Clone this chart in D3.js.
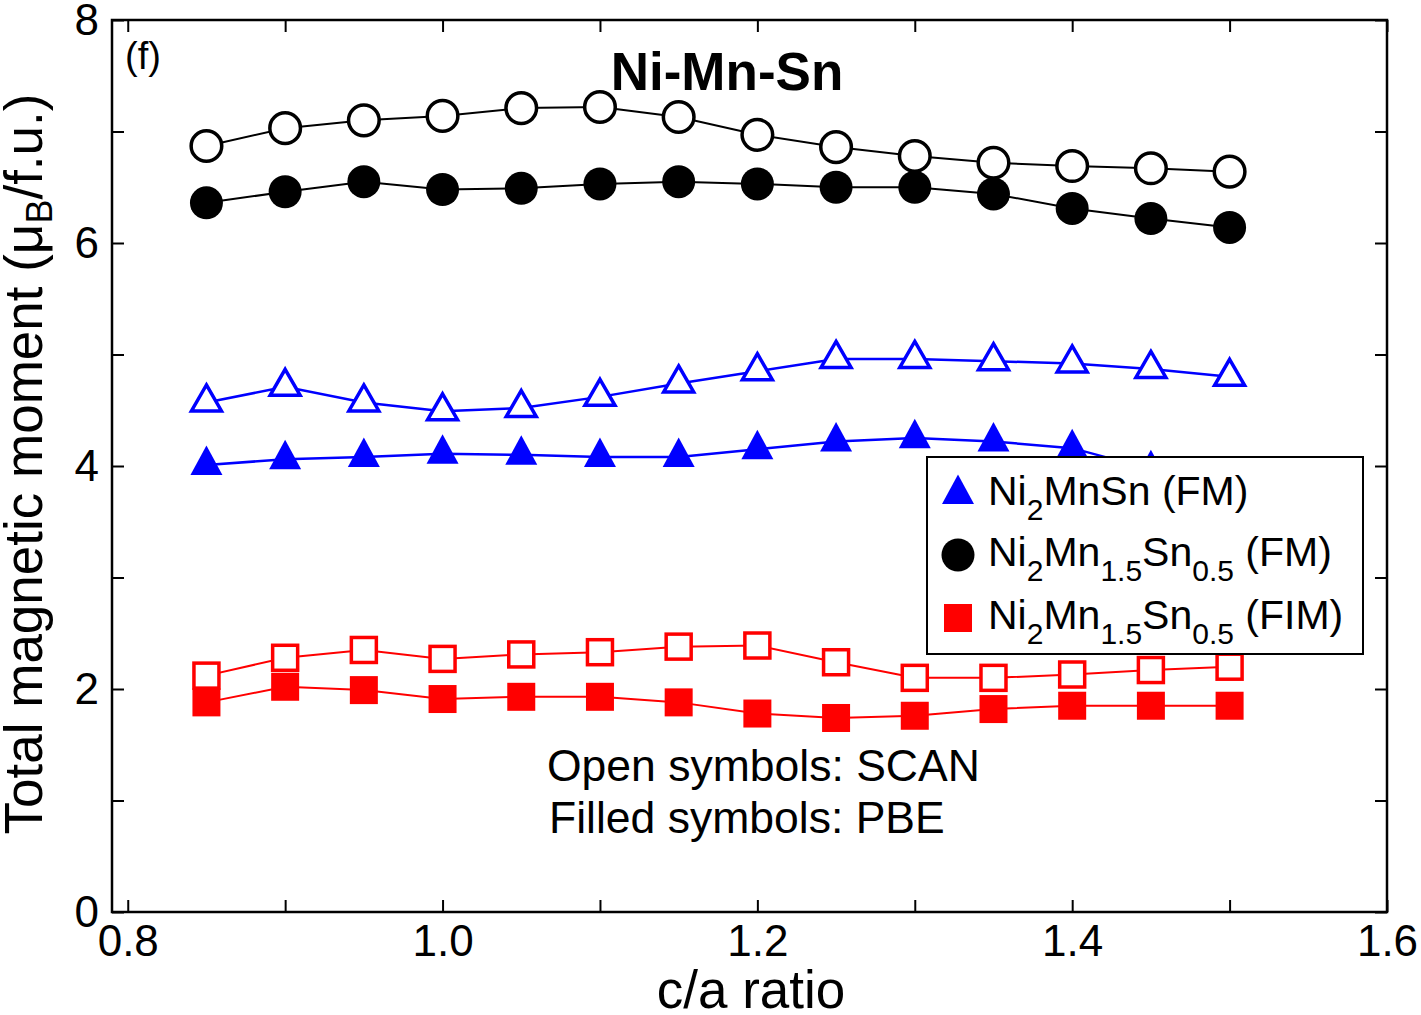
<!DOCTYPE html>
<html><head><meta charset="utf-8">
<script src="https://cdn.jsdelivr.net/npm/d3@7"></script>
<style>body{margin:0;background:#fff}svg{display:block}text{font-family:"Liberation Sans",Arial,Helvetica,sans-serif}</style>
</head><body>
<svg id="c" width="1421" height="1015"></svg>
<script>
const caRatio = [0.85,0.90,0.95,1.00,1.05,1.10,1.15,1.20,1.25,1.30,1.35,1.40,1.45,1.50];
const scanMn15FM = [6.87,7.03,7.10,7.14,7.21,7.22,7.13,6.97,6.86,6.78,6.72,6.69,6.67,6.64];
const pbeMn15FM  = [6.36,6.46,6.55,6.48,6.49,6.53,6.55,6.53,6.50,6.50,6.44,6.31,6.22,6.14];
const scanNi2MnSn = [4.57,4.71,4.57,4.49,4.52,4.62,4.74,4.85,4.96,4.96,4.94,4.92,4.87,4.80];
const pbeNi2MnSn  = [4.01,4.06,4.08,4.11,4.10,4.08,4.08,4.15,4.22,4.25,4.22,4.16,3.97,3.90];
const scanMn15FIM = [2.12,2.28,2.35,2.27,2.31,2.33,2.38,2.39,2.24,2.10,2.10,2.13,2.17,2.20];
const pbeMn15FIM  = [1.88,2.02,1.99,1.91,1.93,1.93,1.88,1.78,1.74,1.76,1.82,1.85,1.85,1.85];
const xTicks = [0.8,0.9,1.0,1.1,1.2,1.3,1.4,1.5,1.6];
const xTickLabels = ["0.8","","1.0","","1.2","","1.4","","1.6"];
const yTicks = [0,1,2,3,4,5,6,7,8];
const yTickLabels = ["0","","2","","4","","6","","8"];

const svg = d3.select("#c");
const L=112, R=1387, T=20, B=912;
const x = d3.scaleLinear().domain([0.79,1.6]).range([L,R]);
const y = d3.scaleLinear().domain([0,8]).range([B,T]);

function styleAxis(g){
  g.select(".domain").remove();
  g.selectAll(".tick line").attr("stroke","#000").attr("stroke-width",2);
  g.selectAll(".tick text").attr("font-size",44).attr("fill","#000")
   .style("font-family",'"Liberation Sans",Arial,sans-serif');
}
svg.append("g").attr("transform",`translate(0,${B})`)
  .call(d3.axisBottom(x).tickValues(xTicks).tickSizeInner(-12).tickSizeOuter(0).tickPadding(13)
    .tickFormat((d,i)=>xTickLabels[i])).call(styleAxis);
svg.append("g").attr("transform",`translate(0,${T})`)
  .call(d3.axisTop(x).tickValues(xTicks).tickSizeInner(-12).tickSizeOuter(0).tickFormat(""))
  .call(styleAxis);
svg.append("g").attr("transform",`translate(${L},0)`)
  .call(d3.axisLeft(y).tickValues(yTicks).tickSizeInner(-12).tickSizeOuter(0).tickPadding(13)
    .tickFormat((d,i)=>yTickLabels[i])).call(styleAxis);
svg.append("g").attr("transform",`translate(${R},0)`)
  .call(d3.axisRight(y).tickValues(yTicks).tickSizeInner(-12).tickSizeOuter(0).tickFormat(""))
  .call(styleAxis);

svg.append("rect").attr("x",L).attr("y",T).attr("width",R-L).attr("height",B-T)
  .attr("fill","none").attr("stroke","#000").attr("stroke-width",2.5);

const series = [
  {v:pbeMn15FIM, color:"#ff0000", sym:"square", fill:true, lw:2},
  {v:scanMn15FIM, color:"#ff0000", sym:"square", fill:false, lw:2},
  {v:pbeNi2MnSn, color:"#0000ff", sym:"triangle", fill:true, lw:2.5},
  {v:scanNi2MnSn, color:"#0000ff", sym:"triangle", fill:false, lw:2.5},
  {v:pbeMn15FM, color:"#000000", sym:"circle", fill:true, lw:2},
  {v:scanMn15FM, color:"#000000", sym:"circle", fill:false, lw:2},
];
function drawSym(g, sym, fill, color, cx, cy){
  const sw = 3.5;
  if(sym==="circle"){
    g.append("circle").attr("cx",cx).attr("cy",cy).attr("r",fill?16.5:15.3)
     .attr("fill",fill?color:"#fff").attr("stroke",color).attr("stroke-width",fill?0:sw);
  } else if(sym==="square"){
    const s = fill?28:25;
    g.append("rect").attr("x",cx-s/2).attr("y",cy-s/2).attr("width",s).attr("height",s)
     .attr("fill",fill?color:"#fff").attr("stroke",color).attr("stroke-width",fill?0:sw);
  } else {
    const hw = fill?16:15, top = fill?19.5:17.5, bot = fill?10:8.5;
    g.append("path").attr("d",`M${cx},${cy-top}L${cx+hw},${cy+bot}L${cx-hw},${cy+bot}Z`)
     .attr("fill",fill?color:"#fff").attr("stroke",color).attr("stroke-width",fill?0:sw)
     .attr("stroke-linejoin","miter");
  }
}
series.forEach(s=>{
  const g = svg.append("g");
  const line = d3.line().x((d,i)=>x(caRatio[i])).y(d=>y(d));
  g.append("path").attr("d",line(s.v)).attr("fill","none").attr("stroke",s.color).attr("stroke-width",s.lw);
  s.v.forEach((d,i)=>drawSym(g,s.sym,s.fill,s.color,x(caRatio[i]),y(d)));
});

svg.append("text").attr("x",125).attr("y",69).attr("font-size",38).text("(f)");
svg.append("text").attr("x",727).attr("y",90).attr("font-size",53).attr("font-weight","bold")
  .attr("text-anchor","middle").text("Ni-Mn-Sn");
svg.append("text").attr("x",547).attr("y",781).attr("font-size",44.5).text("Open symbols: SCAN");
svg.append("text").attr("x",549).attr("y",833).attr("font-size",44.5).text("Filled symbols: PBE");
svg.append("text").attr("x",751).attr("y",1008).attr("font-size",53).attr("text-anchor","middle").text("c/a ratio");
const yl = svg.append("text").attr("transform","translate(42,464) rotate(-90)").attr("font-size",53).attr("text-anchor","middle");
yl.append("tspan").text("Total magnetic moment (μ");
yl.append("tspan").attr("font-size",36).attr("dy",10).text("B");
yl.append("tspan").attr("dy",-10).text("/f.u.)");

const lg = svg.append("g");
lg.append("rect").attr("x",927).attr("y",457).attr("width",436).attr("height",197)
  .attr("fill","#fff").attr("stroke","#000").attr("stroke-width",2);
const legendItems = [
  {sym:"triangle", color:"#0000ff", cy:494, parts:[["Ni",0],["2",1],["MnSn (FM)",0]]},
  {sym:"circle", color:"#000000", cy:555, parts:[["Ni",0],["2",1],["Mn",0],["1.5",1],["Sn",0],["0.5",1],[" (FM)",0]]},
  {sym:"square", color:"#ff0000", cy:618, parts:[["Ni",0],["2",1],["Mn",0],["1.5",1],["Sn",0],["0.5",1],[" (FIM)",0]]},
];
legendItems.forEach(it=>{
  drawSym(lg,it.sym,true,it.color,958,it.cy);
  const t = lg.append("text").attr("x",988).attr("y",it.cy+11).attr("font-size",41).attr("xml:space","preserve");
  let sub=false;
  it.parts.forEach(([s,isSub])=>{
    const ts = t.append("tspan").text(s);
    if(isSub && !sub){ts.attr("font-size",30).attr("dy",15);sub=true;}
    else if(isSub && sub){ts.attr("font-size",30);}
    else if(!isSub && sub){ts.attr("dy",-15);sub=false;}
  });
});
</script>
</body></html>
